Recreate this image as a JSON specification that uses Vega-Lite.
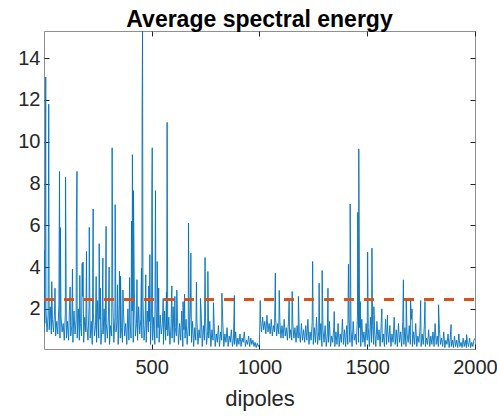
{
"$schema": "https://vega.github.io/schema/vega-lite/v6.json",
"width": 431, "height": 318,
"autosize": {"type": "none"},
"padding": {"left": 44, "top": 31, "right": 22, "bottom": 67},
"config": {"view": {"stroke": "#8f8f8f", "strokeWidth": 1}, "font": "Liberation Sans"},
"title": {"text": "Average spectral energy", "fontSize": 23, "fontWeight": "bold", "color": "#000000", "font": "Liberation Sans", "anchor": "middle", "offset": -19, "baseline": "alphabetic"},
"datasets": {
"energy": [
{"x":1,"y":0.9},{"x":5,"y":1.3},{"x":10,"y":2.0},{"x":15,"y":0.9},{"x":20,"y":1.7},{"x":25,"y":1.0},{"x":30,"y":2.1},{"x":35,"y":0.8},{"x":40,"y":1.5},{"x":45,"y":0.9},{"x":50,"y":1.9},{"x":55,"y":0.7},{"x":60,"y":1.4},{"x":65,"y":0.8},{"x":70,"y":2.2},{"x":75,"y":0.6},{"x":80,"y":1.6},{"x":85,"y":0.9},{"x":90,"y":1.3},{"x":95,"y":0.5},{"x":100,"y":1.8},
{"x":105,"y":0.6},{"x":110,"y":1.4},{"x":115,"y":0.5},{"x":120,"y":2.3},{"x":125,"y":0.7},{"x":130,"y":1.2},{"x":135,"y":0.4},{"x":140,"y":1.9},{"x":145,"y":0.8},{"x":150,"y":1.5},{"x":155,"y":0.6},{"x":160,"y":2.0},{"x":165,"y":0.5},{"x":170,"y":1.3},{"x":175,"y":0.7},{"x":180,"y":2.6},{"x":185,"y":0.4},{"x":190,"y":1.6},{"x":195,"y":0.9},{"x":200,"y":1.2},
{"x":205,"y":0.5},{"x":210,"y":2.1},{"x":215,"y":0.6},{"x":220,"y":1.4},{"x":225,"y":0.3},{"x":230,"y":1.8},{"x":235,"y":0.7},{"x":240,"y":1.2},{"x":245,"y":0.4},{"x":250,"y":2.4},{"x":255,"y":0.6},{"x":260,"y":1.5},{"x":265,"y":0.3},{"x":270,"y":1.1},{"x":275,"y":0.8},{"x":280,"y":2.0},{"x":285,"y":0.4},{"x":290,"y":1.3},{"x":295,"y":0.6},{"x":300,"y":1.7},
{"x":305,"y":0.3},{"x":310,"y":1.2},{"x":315,"y":0.7},{"x":320,"y":2.5},{"x":325,"y":0.4},{"x":330,"y":1.6},{"x":335,"y":0.9},{"x":340,"y":1.4},{"x":345,"y":0.3},{"x":350,"y":2.2},{"x":355,"y":0.6},{"x":360,"y":1.1},{"x":365,"y":0.4},{"x":370,"y":1.8},{"x":375,"y":0.7},{"x":380,"y":1.3},{"x":385,"y":0.3},{"x":390,"y":2.0},{"x":395,"y":0.5},{"x":400,"y":1.4},
{"x":405,"y":0.6},{"x":410,"y":1.9},{"x":415,"y":0.4},{"x":420,"y":2.8},{"x":425,"y":0.7},{"x":430,"y":1.3},{"x":435,"y":0.5},{"x":440,"y":2.1},{"x":445,"y":0.8},{"x":450,"y":1.5},{"x":455,"y":0.6},{"x":460,"y":2.4},{"x":465,"y":0.5},{"x":470,"y":1.2},{"x":475,"y":0.4},{"x":480,"y":1.9},{"x":485,"y":0.9},{"x":490,"y":1.4},{"x":495,"y":0.3},{"x":500,"y":2.0},
{"x":505,"y":0.5},{"x":510,"y":1.6},{"x":515,"y":0.3},{"x":520,"y":2.2},{"x":525,"y":0.6},{"x":530,"y":1.1},{"x":535,"y":0.4},{"x":540,"y":1.7},{"x":545,"y":0.8},{"x":550,"y":1.3},{"x":555,"y":0.3},{"x":560,"y":1.9},{"x":565,"y":0.5},{"x":570,"y":1.0},{"x":575,"y":0.7},{"x":580,"y":1.6},{"x":585,"y":0.3},{"x":590,"y":1.2},{"x":595,"y":0.6},{"x":600,"y":2.1},
{"x":605,"y":0.4},{"x":610,"y":1.1},{"x":615,"y":0.7},{"x":620,"y":1.6},{"x":625,"y":0.3},{"x":630,"y":1.3},{"x":635,"y":0.5},{"x":640,"y":1.9},{"x":645,"y":0.2},{"x":650,"y":1.0},{"x":655,"y":0.6},{"x":660,"y":1.5},{"x":665,"y":0.3},{"x":670,"y":1.2},{"x":675,"y":0.7},{"x":680,"y":2.0},{"x":685,"y":0.4},{"x":690,"y":1.4},{"x":695,"y":0.2},{"x":700,"y":1.1},
{"x":705,"y":0.5},{"x":710,"y":1.5},{"x":715,"y":0.3},{"x":720,"y":1.0},{"x":725,"y":0.6},{"x":730,"y":1.8},{"x":735,"y":0.2},{"x":740,"y":1.2},{"x":745,"y":0.5},{"x":750,"y":1.6},{"x":755,"y":0.3},{"x":760,"y":0.9},{"x":765,"y":0.6},{"x":770,"y":1.4},{"x":775,"y":0.2},{"x":780,"y":1.0},{"x":785,"y":0.5},{"x":790,"y":1.3},{"x":795,"y":0.2},{"x":800,"y":0.8},
{"x":805,"y":0.4},{"x":810,"y":1.2},{"x":815,"y":0.2},{"x":820,"y":0.9},{"x":825,"y":0.5},{"x":830,"y":1.4},{"x":835,"y":0.2},{"x":840,"y":0.8},{"x":845,"y":0.4},{"x":850,"y":1.1},{"x":855,"y":0.2},{"x":860,"y":0.7},{"x":865,"y":0.4},{"x":870,"y":1.0},{"x":875,"y":0.2},{"x":880,"y":0.6},{"x":885,"y":0.3},{"x":890,"y":0.9},{"x":895,"y":0.2},{"x":900,"y":0.6},
{"x":905,"y":0.3},{"x":910,"y":0.8},{"x":915,"y":0.2},{"x":920,"y":0.6},{"x":925,"y":0.4},{"x":930,"y":0.9},{"x":935,"y":0.2},{"x":940,"y":0.5},{"x":945,"y":0.3},{"x":950,"y":0.7},{"x":955,"y":0.2},{"x":960,"y":0.6},{"x":965,"y":0.3},{"x":970,"y":0.5},{"x":975,"y":0.2},{"x":980,"y":0.4},{"x":985,"y":0.15},{"x":990,"y":0.35},{"x":995,"y":0.2},{"x":1000,"y":0.3},
{"x":1005,"y":1.5},{"x":1010,"y":0.9},{"x":1015,"y":1.6},{"x":1020,"y":1.0},{"x":1025,"y":1.4},{"x":1030,"y":0.8},{"x":1035,"y":1.7},{"x":1040,"y":0.9},{"x":1045,"y":1.3},{"x":1050,"y":0.8},{"x":1055,"y":1.5},{"x":1060,"y":0.7},{"x":1065,"y":1.2},{"x":1070,"y":0.9},{"x":1075,"y":1.6},{"x":1080,"y":0.7},{"x":1085,"y":1.3},{"x":1090,"y":0.8},{"x":1095,"y":1.4},{"x":1100,"y":0.6},
{"x":1105,"y":1.2},{"x":1110,"y":0.6},{"x":1115,"y":1.5},{"x":1120,"y":0.7},{"x":1125,"y":1.1},{"x":1130,"y":0.5},{"x":1135,"y":1.4},{"x":1140,"y":0.6},{"x":1145,"y":1.0},{"x":1150,"y":0.5},{"x":1155,"y":1.3},{"x":1160,"y":0.6},{"x":1165,"y":1.1},{"x":1170,"y":0.4},{"x":1175,"y":1.2},{"x":1180,"y":0.6},{"x":1185,"y":0.9},{"x":1190,"y":0.4},{"x":1195,"y":1.3},{"x":1200,"y":0.5},
{"x":1205,"y":1.0},{"x":1210,"y":0.4},{"x":1215,"y":1.2},{"x":1220,"y":0.5},{"x":1225,"y":1.5},{"x":1230,"y":0.3},{"x":1235,"y":0.9},{"x":1240,"y":0.5},{"x":1245,"y":1.4},{"x":1250,"y":0.3},{"x":1255,"y":1.1},{"x":1260,"y":0.4},{"x":1265,"y":1.6},{"x":1270,"y":0.3},{"x":1275,"y":0.9},{"x":1280,"y":0.5},{"x":1285,"y":1.3},{"x":1290,"y":0.2},{"x":1295,"y":1.0},{"x":1300,"y":0.4},
{"x":1305,"y":1.2},{"x":1310,"y":0.2},{"x":1315,"y":0.8},{"x":1320,"y":0.4},{"x":1325,"y":1.4},{"x":1330,"y":0.2},{"x":1335,"y":0.7},{"x":1340,"y":0.4},{"x":1345,"y":1.1},{"x":1350,"y":0.2},{"x":1355,"y":0.9},{"x":1360,"y":0.3},{"x":1365,"y":1.3},{"x":1370,"y":0.2},{"x":1375,"y":0.8},{"x":1380,"y":0.4},{"x":1385,"y":1.5},{"x":1390,"y":0.3},{"x":1395,"y":1.0},{"x":1400,"y":0.2},
{"x":1405,"y":1.2},{"x":1410,"y":0.3},{"x":1415,"y":1.6},{"x":1420,"y":0.4},{"x":1425,"y":1.0},{"x":1430,"y":0.2},{"x":1435,"y":1.4},{"x":1440,"y":0.5},{"x":1445,"y":0.8},{"x":1450,"y":0.3},{"x":1455,"y":1.7},{"x":1460,"y":0.4},{"x":1465,"y":1.1},{"x":1470,"y":0.2},{"x":1475,"y":1.5},{"x":1480,"y":0.4},{"x":1485,"y":0.9},{"x":1490,"y":0.2},{"x":1495,"y":1.3},{"x":1500,"y":0.5},
{"x":1505,"y":1.1},{"x":1510,"y":0.2},{"x":1515,"y":1.6},{"x":1520,"y":0.4},{"x":1525,"y":1.2},{"x":1530,"y":0.3},{"x":1535,"y":0.9},{"x":1540,"y":0.2},{"x":1545,"y":1.4},{"x":1550,"y":0.5},{"x":1555,"y":1.0},{"x":1560,"y":0.2},{"x":1565,"y":1.3},{"x":1570,"y":0.4},{"x":1575,"y":0.8},{"x":1580,"y":0.2},{"x":1585,"y":1.5},{"x":1590,"y":0.3},{"x":1595,"y":1.0},{"x":1600,"y":0.4},
{"x":1605,"y":1.2},{"x":1610,"y":0.2},{"x":1615,"y":0.8},{"x":1620,"y":0.4},{"x":1625,"y":1.6},{"x":1630,"y":0.3},{"x":1635,"y":1.0},{"x":1640,"y":0.2},{"x":1645,"y":1.3},{"x":1650,"y":0.4},{"x":1655,"y":0.9},{"x":1660,"y":0.2},{"x":1665,"y":1.4},{"x":1670,"y":0.3},{"x":1675,"y":1.1},{"x":1680,"y":0.2},{"x":1685,"y":0.8},{"x":1690,"y":0.4},{"x":1695,"y":1.2},{"x":1700,"y":0.3},
{"x":1705,"y":1.5},{"x":1710,"y":0.2},{"x":1715,"y":0.9},{"x":1720,"y":0.3},{"x":1725,"y":1.3},{"x":1730,"y":0.2},{"x":1735,"y":0.7},{"x":1740,"y":0.4},{"x":1745,"y":1.1},{"x":1750,"y":0.2},{"x":1755,"y":0.8},{"x":1760,"y":0.3},{"x":1765,"y":1.2},{"x":1770,"y":0.2},{"x":1775,"y":0.6},{"x":1780,"y":0.3},{"x":1785,"y":1.0},{"x":1790,"y":0.2},{"x":1795,"y":0.7},{"x":1800,"y":0.3},
{"x":1805,"y":0.9},{"x":1810,"y":0.2},{"x":1815,"y":1.3},{"x":1820,"y":0.3},{"x":1825,"y":0.7},{"x":1830,"y":0.2},{"x":1835,"y":1.0},{"x":1840,"y":0.3},{"x":1845,"y":0.6},{"x":1850,"y":0.2},{"x":1855,"y":0.9},{"x":1860,"y":0.15},{"x":1865,"y":0.5},{"x":1870,"y":0.3},{"x":1875,"y":0.8},{"x":1880,"y":0.15},{"x":1885,"y":0.6},{"x":1890,"y":0.2},{"x":1895,"y":0.5},{"x":1900,"y":0.15},
{"x":1905,"y":0.7},{"x":1910,"y":0.2},{"x":1915,"y":0.5},{"x":1920,"y":0.15},{"x":1925,"y":0.8},{"x":1930,"y":0.2},{"x":1935,"y":0.4},{"x":1940,"y":0.15},{"x":1945,"y":0.6},{"x":1950,"y":0.2},{"x":1955,"y":0.5},{"x":1960,"y":0.15},{"x":1965,"y":0.4},{"x":1970,"y":0.2},{"x":1975,"y":0.6},{"x":1980,"y":0.15},{"x":1985,"y":0.4},{"x":1990,"y":0.2},{"x":1995,"y":0.5},{"x":2000,"y":0.6},
{"x":2,"y":4.8},{"x":9,"y":13.1},{"x":23,"y":11.8},{"x":37,"y":3.3},{"x":52,"y":2.99},{"x":73,"y":8.58},{"x":77,"y":5.89},{"x":101,"y":8.31},{"x":122,"y":3.05},{"x":133,"y":3.9},{"x":151,"y":5.95},{"x":154,"y":8.58},{"x":167,"y":3.6},{"x":178,"y":4.18},{"x":182,"y":4.24},{"x":198,"y":4.75},{"x":211,"y":5.9},{"x":229,"y":6.78},{"x":243,"y":3.55},{"x":257,"y":5.12},{"x":262,"y":3.0},{"x":274,"y":4.43},{"x":289,"y":5.95},{"x":303,"y":4.0},{"x":317,"y":9.71},{"x":331,"y":6.99},{"x":342,"y":3.15},{"x":351,"y":3.8},{"x":356,"y":3.56},{"x":367,"y":2.9},{"x":398,"y":3.5},{"x":407,"y":6.2},{"x":411,"y":9.38},{"x":416,"y":7.66},{"x":432,"y":3.4},{"x":453,"y":3.95},{"x":456,"y":11.34},{"x":458,"y":15.3},{"x":473,"y":3.63},{"x":487,"y":3.1},{"x":492,"y":4.6},{"x":501,"y":7.3},{"x":503,"y":9.71},{"x":518,"y":7.66},{"x":526,"y":4.27},{"x":533,"y":3.0},{"x":554,"y":2.5},{"x":569,"y":2.8},{"x":572,"y":10.93},{"x":594,"y":3.1},{"x":608,"y":2.6},{"x":617,"y":2.9},{"x":646,"y":2.35},{"x":653,"y":2.7},{"x":671,"y":6.11},{"x":682,"y":4.67},{"x":708,"y":3.28},{"x":727,"y":2.5},{"x":748,"y":4.46},{"x":761,"y":3.79},{"x":787,"y":2.3},{"x":826,"y":2.75},{"x":884,"y":2.64},
{"x":1002,"y":1.3},{"x":1004,"y":2.4},{"x":1074,"y":3.71},{"x":1092,"y":2.88},{"x":1138,"y":2.5},{"x":1152,"y":2.83},{"x":1181,"y":2.6},{"x":1247,"y":4.27},{"x":1277,"y":3.23},{"x":1291,"y":3.84},{"x":1318,"y":2.99},{"x":1347,"y":1.87},{"x":1413,"y":4.14},{"x":1421,"y":7.02},{"x":1456,"y":6.62},{"x":1461,"y":9.66},{"x":1468,"y":2.35},{"x":1502,"y":4.72},{"x":1522,"y":4.91},{"x":1531,"y":2.1},{"x":1568,"y":2.0},{"x":1594,"y":1.7},{"x":1668,"y":3.39},{"x":1681,"y":2.5},{"x":1701,"y":2.45},{"x":1708,"y":2.0},{"x":1748,"y":2.4},{"x":1768,"y":2.35},{"x":1831,"y":2.2},{"x":1889,"y":1.25},{"x":1961,"y":0.77}
],
"threshold": [{"x": 1, "y": 2.45}, {"x": 2000, "y": 2.45}]
},
"layer": [
{
"data": {"name": "energy"},
"mark": {"type": "line", "color": "#0072BD", "strokeWidth": 0.9, "clip": true},
"encoding": {
"x": {"field": "x", "type": "quantitative", "scale": {"domain": [1, 2000], "nice": false, "zero": false},
"axis": {"orient": "bottom", "values": [500, 1000, 1500, 2000], "format": "d", "title": "dipoles", "titleFontSize": 22, "titleFontWeight": "normal", "titleColor": "#262626", "titleFont": "Liberation Sans", "titleY": 56, "titleBaseline": "alphabetic", "labelFontSize": 20, "labelColor": "#262626", "labelFont": "Liberation Sans", "labelFlush": false, "labelOverlap": false, "tickSize": -5, "tickColor": "#262626", "labelPadding": 13, "domain": false, "grid": false}},
"y": {"field": "y", "type": "quantitative", "scale": {"domain": [0.08, 15.3], "nice": false, "zero": false},
"axis": {"orient": "left", "values": [2, 4, 6, 8, 10, 12, 14], "format": "d", "title": null, "labelFontSize": 20, "labelColor": "#262626", "labelFont": "Liberation Sans", "labelFlush": false, "labelOverlap": false, "tickSize": -5, "tickColor": "#262626", "labelPadding": 9, "domain": false, "grid": false}}
}
},
{
"data": {"name": "threshold"},
"mark": {"type": "line", "color": "#D95319", "strokeWidth": 3, "strokeDash": [10, 10]},
"encoding": {
"x": {"field": "x", "type": "quantitative", "scale": {"domain": [1, 2000], "nice": false, "zero": false},
"axis": {"orient": "top", "values": [500, 1000, 1500, 2000], "title": null, "labels": false, "tickSize": -5, "tickColor": "#262626", "domain": false, "grid": false}},
"y": {"field": "y", "type": "quantitative", "scale": {"domain": [0.08, 15.3], "nice": false, "zero": false},
"axis": {"orient": "right", "values": [2, 4, 6, 8, 10, 12, 14], "title": null, "labels": false, "tickSize": -5, "tickColor": "#262626", "domain": false, "grid": false}}
}
}
],
"resolve": {"axis": {"x": "independent", "y": "independent"}}
}
